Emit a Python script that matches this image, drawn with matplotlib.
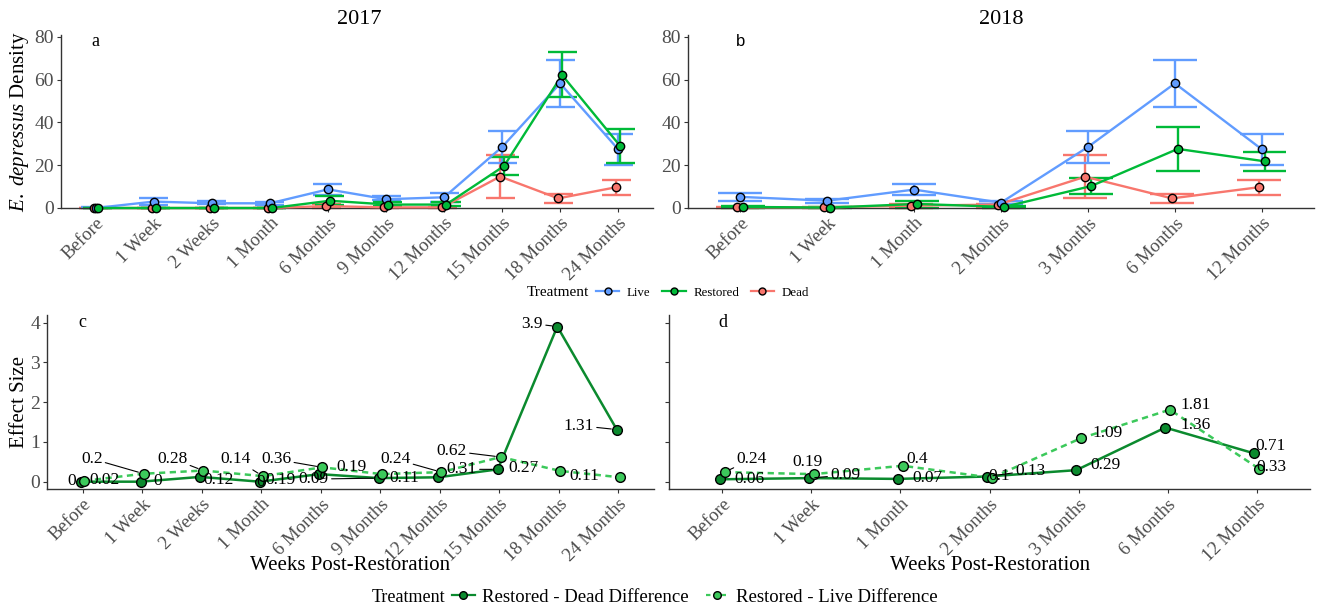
import matplotlib
matplotlib.use('Agg')
import matplotlib.pyplot as plt
from matplotlib.lines import Line2D
import numpy as np

plt.rcParams['font.family'] = ['Liberation Serif', 'DejaVu Serif']
plt.rcParams['mathtext.fontset'] = 'custom'
plt.rcParams['mathtext.rm'] = 'Liberation Serif'
plt.rcParams['mathtext.it'] = 'Liberation Serif:italic'

# ---------------- data ----------------
cats17 = ["Before", "1 Week", "2 Weeks", "1 Month", "6 Months", "9 Months",
          "12 Months", "15 Months", "18 Months", "24 Months"]
live17 = [0, 3, 2.2, 2.2, 8.7, 4.1, 5, 28.5, 58.2, 27.4]
live17_lo = [0, 1.6, 1.7, 1.6, 6.3, 3.6, 3, 21.1, 47.4, 20]
live17_hi = [0.5, 4.5, 3.1, 2.9, 11.1, 5.5, 7, 36, 69.2, 34.6]
rest17 = [0, 0, 0, 0, 3.4, 1.6, 1.6, 19.6, 62.1, 29]
rest17_lo = [0, 0, 0, 0, 1.4, 0.8, 0.8, 15.2, 51.7, 20.8]
rest17_hi = [0, 0, 0, 0, 5.5, 2.7, 2.7, 23.8, 72.8, 37.1]
dead17 = [0, 0, 0, 0, 0.9, 0.3, 0.3, 14.7, 4.5, 9.7]
dead17_lo = [0, 0, 0, 0, 0, 0, 0, 4.9, 2.5, 6.3]
dead17_hi = [0, 0, 0, 0, 2, 0.6, 0.6, 24.6, 6.7, 13.3]

cats18 = ["Before", "1 Week", "1 Month", "2 Months", "3 Months", "6 Months", "12 Months"]
live18 = [5.2, 3.4, 8.6, 2.5, 28.5, 58.2, 27.4]
live18_lo = [3.1, 2.5, 6.3, 1.7, 21.1, 47.4, 20]
live18_hi = [7, 4.4, 11, 3.1, 36, 69.2, 34.6]
rest18 = [0.5, 0.2, 1.9, 0.5, 10.2, 27.6, 21.8]
rest18_lo = [0, 0, 0, 0, 6.6, 17.1, 17.2]
rest18_hi = [0.9, 0.4, 3.3, 0.9, 13.8, 38, 26.3]
dead18 = [0.3, 0.3, 1.1, 1.6, 14.6, 4.5, 9.7]
dead18_lo = [0, 0, 0, 0, 4.9, 2.5, 6.3]
dead18_hi = [0.5, 0.5, 2, 2, 24.6, 6.7, 13.1]

# effect sizes
rd17 = [0, 0, 0.12, 0, 0.19, 0.09, 0.11, 0.31, 3.9, 1.31]        # Restored - Dead
rl17 = [0.02, 0.2, 0.28, 0.14, 0.36, 0.19, 0.24, 0.62, 0.27, 0.11]  # Restored - Live
rd18 = [0.06, 0.09, 0.07, 0.13, 0.29, 1.36, 0.71]
rl18 = [0.24, 0.19, 0.4, 0.1, 1.09, 1.81, 0.33]

# label placement (offset pixels, leader line flag) -- style only
rd17_off = [(-10, 1, 0), (17, 1, 0), (18, -3, 0), (1, 0, 0), (-39, -6, 0),
            (-65, -1, 1), (-34, -1, 0), (-36, 0, 1), (-25, 3, 1), (-38, 4, 1)]
rl17_off = [(20, 1, 0), (-52, 15, 1), (-31, 12, 1), (-27, 17, 1), (-46, 8, 1),
            (-30, 7, 0), (-46, 13, 1), (-49, 6, 1), (-37, 3, 0), (-36, 1, 0)]
rd18_off = [(29, 0, 0), (36, 3, 1), (29, 1, 0), (43, 6, 1), (29, 5, 0), (30, 3, 0), (16, 7, 0)]
rl18_off = [(27, 13, 1), (-6, 12, 0), (14, 7, 0), (7, 2, 0), (27, 5, 0), (26, 5, 0), (13, 2, 0)]

# ---------------- style ----------------
C_LIVE, C_REST, C_DEAD = '#619CFF', '#00BA38', '#F8766D'
C_DARK, C_LIGHT = '#0B8A2E', '#3CC95B'
TICKC, LABC = '#333333', '#4D4D4D'

W, H = 1320, 608
fig = plt.figure(figsize=(W / 100, H / 100), dpi=100)


def rect(l, r, t, b):
    return [l / W, 1 - b / H, (r - l) / W, (b - t) / H]


def style(ax, cats, ylim, yticks, ylabels=True):
    for s in ['top', 'right']:
        ax.spines[s].set_visible(False)
    for s in ['left', 'bottom']:
        ax.spines[s].set_color(TICKC)
        ax.spines[s].set_linewidth(1.0)
    n = len(cats)
    ax.set_xlim(-0.6, n - 1 + 0.6)
    ax.set_ylim(*ylim)
    ax.set_xticks(range(n))
    ax.set_xticklabels(cats, rotation=45, ha='right', va='top',
                       rotation_mode='anchor', fontsize=13.5, color=LABC)
    ax.set_yticks(yticks)
    if not ylabels:
        ax.set_yticklabels([])
    ax.tick_params(axis='y', labelsize=14)
    ax.tick_params(length=3, color=TICKC, width=0.8,
                   labelcolor=LABC, pad=2)
    ax.patch.set_visible(False)


def density_panel(ax, cats, groups):
    x = np.arange(len(cats))
    for vals, lo, hi, color, off in groups:
        xs = x + off
        lo = np.array(lo); hi = np.array(hi)
        ax.vlines(xs, lo, hi, color=color, lw=1.7, zorder=2, clip_on=False)
        ax.hlines(lo, xs - 0.25, xs + 0.25, color=color, lw=1.7, zorder=2, clip_on=False)
        ax.hlines(hi, xs - 0.25, xs + 0.25, color=color, lw=1.7, zorder=2, clip_on=False)
    for vals, lo, hi, color, off in groups:
        ax.plot(x + off, vals, color=color, lw=1.7, zorder=3, clip_on=False)
    for vals, lo, hi, color, off in groups:
        ax.plot(x + off, vals, ls='none', marker='o', ms=6, mfc=color,
                mec='black', mew=1.0, zorder=4, clip_on=False)


def effect_panel(ax, cats, rd, rl, rd_off, rl_off):
    x = np.arange(len(cats))
    d = 0.025
    ax.plot(x - d, rd, color=C_DARK, lw=1.8, zorder=2, clip_on=False)
    ax.plot(x + d, rl, color=C_LIGHT, lw=1.8, ls=(0, (2.5, 1.8)), zorder=2, clip_on=False)
    ax.plot(x - d, rd, ls='none', marker='o', ms=7, mfc=C_DARK, mec='black',
            mew=1.0, zorder=3, clip_on=False)
    ax.plot(x + d, rl, ls='none', marker='o', ms=7, mfc=C_LIGHT, mec='black',
            mew=1.0, zorder=3, clip_on=False)
    for xs, vals, offs in ((x - d, rd, rd_off), (x + d, rl, rl_off)):
        for xi, v, (dx, dy, lead) in zip(xs, vals, offs):
            kw = {}
            if lead:
                kw['arrowprops'] = dict(arrowstyle='-', color='black', lw=0.8,
                                        shrinkA=0, shrinkB=4)
            ax.annotate(f"{v:g}", xy=(xi, v), xytext=(dx, dy),
                        textcoords='offset pixels', ha='center', va='center',
                        fontsize=12.5, color='black', zorder=5,
                        annotation_clip=False, **kw)


# ---------------- panels ----------------
ax_a = fig.add_axes(rect(61, 653, 35, 208))
ax_b = fig.add_axes(rect(688, 1314, 35, 208))
ax_c = fig.add_axes(rect(47, 654, 315, 489))
ax_d = fig.add_axes(rect(669, 1310, 315, 489))

dod = 0.1 / 3
density_panel(ax_a, cats17, [
    (dead17, dead17_lo, dead17_hi, C_DEAD, -dod),
    (live17, live17_lo, live17_hi, C_LIVE, 0),
    (rest17, rest17_lo, rest17_hi, C_REST, dod)])
density_panel(ax_b, cats18, [
    (dead18, dead18_lo, dead18_hi, C_DEAD, -dod),
    (live18, live18_lo, live18_hi, C_LIVE, 0),
    (rest18, rest18_lo, rest18_hi, C_REST, dod)])
style(ax_a, cats17, (0, 80.8), [0, 20, 40, 60, 80])
style(ax_b, cats18, (0, 80.8), [0, 20, 40, 60, 80])

effect_panel(ax_c, cats17, rd17, rl17, rd17_off, rl17_off)
effect_panel(ax_d, cats18, rd18, rl18, rd18_off, rl18_off)
style(ax_c, cats17, (-0.184, 4.19), [0, 1, 2, 3, 4])
style(ax_d, cats18, (-0.184, 4.19), [0, 1, 2, 3, 4], ylabels=False)

# panel letters
ax_a.text(0, 77.7, 'a', ha='center', va='center', fontsize=13)
ax_b.text(0, 77.7, 'b', ha='center', va='center', fontsize=12,
          family=['Liberation Sans', 'DejaVu Sans'])
ax_c.text(0, 4.0, 'c', ha='center', va='center', fontsize=13)
ax_d.text(0, 4.0, 'd', ha='center', va='center', fontsize=13)

# titles and axis labels
fig.text(359 / W, 1 - 19 / H, '2017', ha='center', va='center', fontsize=16)
fig.text(1001 / W, 1 - 19 / H, '2018', ha='center', va='center', fontsize=16)
fig.text(20 / W, 1 - 122 / H, r'$\mathit{E.\ depressus}$ Density', rotation=90,
         ha='center', va='center', fontsize=15)
fig.text(20 / W, 1 - 402 / H, 'Effect Size', rotation=90, ha='center',
         va='center', fontsize=15)
fig.text(350 / W, 1 - 565 / H, 'Weeks Post-Restoration', ha='center',
         va='center', fontsize=15)
fig.text(990 / W, 1 - 565 / H, 'Weeks Post-Restoration', ha='center',
         va='center', fontsize=15)

# legends
fig.text(527 / W, 1 - 293 / H, 'Treatment', ha='left', va='center', fontsize=11)
h_top = [Line2D([], [], color=c, lw=1.6, marker='o', ms=5, mfc=c, mec='black', mew=1)
         for c in (C_LIVE, C_REST, C_DEAD)]
fig.legend(h_top, ['Live', 'Restored', 'Dead'], loc='center left',
           bbox_to_anchor=(596 / W, 1 - 293 / H), ncol=3, frameon=False,
           fontsize=9.3, handlelength=1.8, handletextpad=0.6, columnspacing=0.9,
           borderpad=0, borderaxespad=0)

fig.text(372 / W, 1 - 597 / H, 'Treatment', ha='left', va='center', fontsize=13)
h_bot = [Line2D([], [], color=C_DARK, lw=1.6, marker='o', ms=5.5, mfc=C_DARK,
                mec='black', mew=1),
         Line2D([], [], color=C_LIGHT, lw=1.6, ls=(0, (2.0, 1.5)), marker='o', ms=5.5,
                mfc=C_LIGHT, mec='black', mew=1)]
fig.legend(h_bot, ['Restored - Dead Difference', 'Restored - Live Difference'],
           loc='center left', bbox_to_anchor=(452 / W, 1 - 597 / H), ncol=2,
           frameon=False, fontsize=13.5, handlelength=1.2, handletextpad=0.4,
           columnspacing=0.9, borderpad=0, borderaxespad=0)

fig.savefig('out.png', dpi=100)
